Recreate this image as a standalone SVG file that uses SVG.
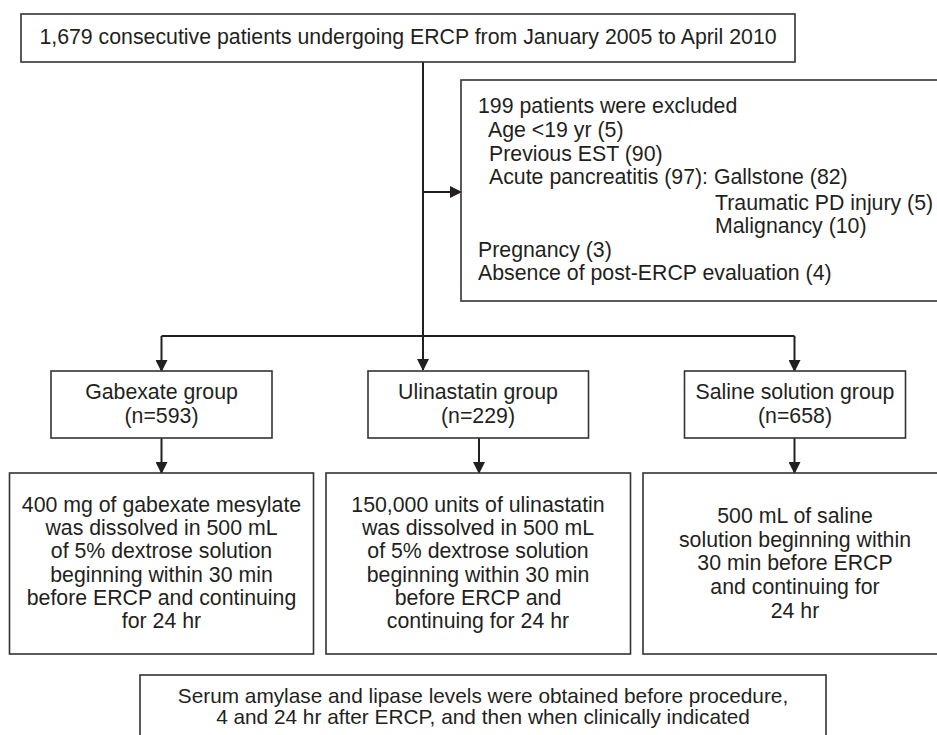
<svg xmlns="http://www.w3.org/2000/svg" width="937" height="735" viewBox="0 0 937 735">
<defs>
<marker id="ah" markerWidth="12" markerHeight="12" refX="11" refY="6" orient="auto" markerUnits="userSpaceOnUse">
<path d="M0,0 L12,6 L0,12 Z" fill="#231f20"/>
</marker>
<style>
.box{fill:#fff;stroke:#333;stroke-width:1.6}
.t{font-family:"Liberation Sans",Arial,sans-serif;font-size:21.3px;fill:#231f20}
.s{font-size:20.8px}
.c{text-anchor:middle}
.ln{fill:none;stroke:#231f20;stroke-width:2}
</style>
</defs>
<rect width="937" height="735" fill="#fff"/>
<g id="connectors">
<path class="ln" d="M423,62 V370" marker-end="url(#ah)"/>
<path class="ln" d="M423,192 H461" marker-end="url(#ah)"/>
<path class="ln" d="M161.5,336 H794.5"/>
<path class="ln" d="M161.5,336 V371" marker-end="url(#ah)"/>
<path class="ln" d="M794.5,336 V371" marker-end="url(#ah)"/>
<path class="ln" d="M161.5,438 V473" marker-end="url(#ah)"/>
<path class="ln" d="M479,438 V473" marker-end="url(#ah)"/>
<path class="ln" d="M794.5,438 V473" marker-end="url(#ah)"/>
</g>
<g id="start">
<rect class="box" x="21" y="14" width="774" height="48"/>
<text class="t c" x="408" y="43.5">1,679 consecutive patients undergoing ERCP from January 2005 to April 2010</text>
</g>
<g id="excluded">
<rect class="box" x="461" y="80" width="490" height="221"/>
<text class="t" x="478" y="113">199 patients were excluded</text>
<text class="t" x="488" y="137">Age &lt;19 yr (5)</text>
<text class="t" x="489" y="160.5">Previous EST (90)</text>
<text class="t" x="489" y="184">Acute pancreatitis (97): Gallstone (82)</text>
<text class="t" x="715" y="210">Traumatic PD injury (5)</text>
<text class="t" x="715" y="233">Malignancy (10)</text>
<text class="t" x="478" y="256.5">Pregnancy (3)</text>
<text class="t" x="478" y="280">Absence of post-ERCP evaluation (4)</text>
</g>
<g id="gabexate">
<rect class="box" x="51" y="371" width="221" height="67"/>
<text class="t c" x="161.5" y="398.5">Gabexate group</text>
<text class="t c" x="161.5" y="423">(n=593)</text>
</g>
<g id="ulinastatin">
<rect class="box" x="368" y="371" width="220.5" height="67"/>
<text class="t c" x="478" y="398.5">Ulinastatin group</text>
<text class="t c" x="478" y="423">(n=229)</text>
</g>
<g id="saline">
<rect class="box" x="684.5" y="371" width="221" height="67"/>
<text class="t c" x="795" y="398.5">Saline solution group</text>
<text class="t c" x="795" y="423">(n=658)</text>
</g>
<g id="gabexate-regimen">
<rect class="box" x="9.5" y="473" width="304" height="181"/>
<text class="t c" x="161.5" y="511.5">400 mg of gabexate mesylate</text>
<text class="t c" x="161.5" y="535">was dissolved in 500 mL</text>
<text class="t c" x="161.5" y="558.3">of 5% dextrose solution</text>
<text class="t c" x="161.5" y="581.6">beginning within 30 min</text>
<text class="t c" x="161.5" y="605">before ERCP and continuing</text>
<text class="t c" x="161.5" y="628.3">for 24 hr</text>
</g>
<g id="ulinastatin-regimen">
<rect class="box" x="326" y="473" width="304.5" height="181"/>
<text class="t c" x="478" y="511.5">150,000 units of ulinastatin</text>
<text class="t c" x="478" y="535">was dissolved in 500 mL</text>
<text class="t c" x="478" y="558.3">of 5% dextrose solution</text>
<text class="t c" x="478" y="581.6">beginning within 30 min</text>
<text class="t c" x="478" y="605">before ERCP and</text>
<text class="t c" x="478" y="628.3">continuing for 24 hr</text>
</g>
<g id="saline-regimen">
<rect class="box" x="643" y="473" width="305" height="181"/>
<text class="t c" x="795" y="523">500 mL of saline</text>
<text class="t c" x="795" y="546.5">solution beginning within</text>
<text class="t c" x="795" y="570">30 min before ERCP</text>
<text class="t c" x="795" y="594">and continuing for</text>
<text class="t c" x="795" y="617.5">24 hr</text>
</g>
<g id="measurement">
<rect class="box" x="140" y="675" width="686" height="75"/>
<text class="t s c" x="483" y="702.5">Serum amylase and lipase levels were obtained before procedure,</text>
<text class="t s c" x="483" y="723.5">4 and 24 hr after ERCP, and then when clinically indicated</text>
</g>
</svg>
